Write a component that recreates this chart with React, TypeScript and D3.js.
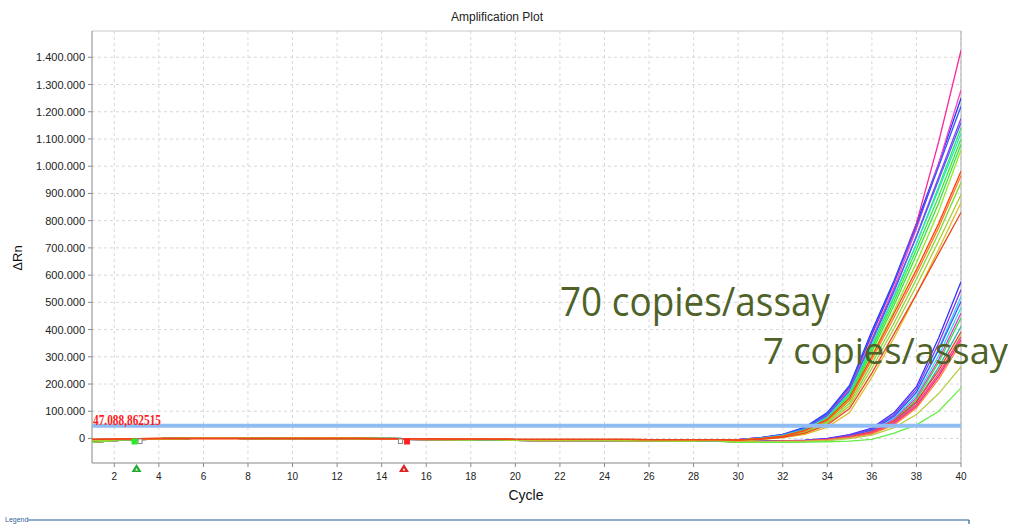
import React from "react";
import * as d3 from "d3";

// cycles 1..40
const cycles: number[] = Array.from({ length: 40 }, (_, i) => i + 1);
const xTickValues = [2, 4, 6, 8, 10, 12, 14, 16, 18, 20, 22, 24, 26, 28, 30, 32, 34, 36, 38, 40];
const yTickValues = [0, 100000, 200000, 300000, 400000, 500000, 600000, 700000, 800000, 900000, 1000000, 1100000, 1200000, 1300000, 1400000];

// flat part of the curves, cycles 1..29
const baseA = [-8000, -5000, -3000, -1000, 0, 1000, 1000, 1000, 0, 0, 0, 0, -1000, -2000, -2000, -3000, -3000, -3000, -3000, -4000, -4000, -4000, -4000, -4000, -4000, -4000, -4000, -4000, -4000];
const baseB = [-14000, -8000, -4000, -2000, 0, 2000, 3000, 3000, 2000, 1000, 0, 1000, 0, -2000, -3000, -4000, -5000, -6000, -6000, -7000, -8000, -8000, -8000, -8000, -9000, -9000, -10000, -10000, -10000];
const baseC = [-4000, -3000, -2000, -1000, 0, 1000, 1000, 0, 0, 1000, 2000, 2000, 1000, 0, -1000, -2000, -3000, -3000, -4000, -5000, -6000, -6000, -5000, -5000, -5000, -5000, -6000, -7000, -8000];
const baseRed = [-3000, -2000, -1000, 0, 0, 0, 0, 0, 0, 0, 0, 0, 0, -1000, -1000, -1000, -2000, -2000, -2000, -3000, -3000, -3000, -3000, -3000, -3000, -4000, -4000, -4000, -4000];

// rising part, cycles 30..40 — 7 copies/assay
const lowColors = ["#3333ff", "#8833ee", "#33ccff", "#22ddee", "#4455ee", "#ee33cc", "#33dd44", "#22bbaa", "#ff3333", "#99ee33", "#ff4488", "#ff22aa", "#ff8833", "#bbcc44", "#66ee44"];
const lowBase = ["B", "B", "B", "C", "B", "C", "B", "C", "B", "C", "B", "C", "B", "C", "B"];
const lowTails = [
  [-10000, -10000, -9000, -6000, 0, 14000, 38000, 95000, 190000, 370000, 576000],
  [-11000, -11000, -10000, -7000, -1000, 12000, 34000, 88000, 180000, 350000, 546000],
  [-11000, -11000, -10000, -8000, -3000, 9000, 30000, 80000, 168000, 330000, 521000],
  [-12000, -12000, -11000, -9000, -4000, 8000, 27000, 74000, 158000, 305000, 480000],
  [-10000, -10000, -9000, -7000, -2000, 10000, 31000, 82000, 170000, 325000, 503000],
  [-12000, -12000, -11000, -9000, -4000, 7000, 25000, 70000, 150000, 290000, 460000],
  [-13000, -13000, -12000, -10000, -5000, 5000, 22000, 65000, 142000, 280000, 443000],
  [-12000, -12000, -12000, -10000, -6000, 4000, 20000, 60000, 132000, 262000, 411000],
  [-11000, -11000, -10000, -8000, -3000, 7000, 24000, 64000, 135000, 250000, 391000],
  [-13000, -13000, -12000, -10000, -6000, 3000, 19000, 56000, 120000, 232000, 380000],
  [-12000, -12000, -11000, -9000, -5000, 5000, 21000, 58000, 125000, 238000, 373000],
  [-13000, -13000, -13000, -11000, -7000, 3000, 18000, 54000, 118000, 228000, 362000],
  [-12000, -12000, -11000, -10000, -6000, 3000, 17000, 50000, 112000, 218000, 351000],
  [-13000, -13000, -12000, -11000, -8000, 0, 12000, 40000, 88000, 165000, 264000],
  [-14000, -14000, -14000, -13000, -12000, -10000, -3000, 20000, 50000, 100000, 186000],
];

// rising part, cycles 30..40 — 70 copies/assay
const highColors = ["#2233ff", "#ff2299", "#ff44bb", "#3355ff", "#9933ff", "#4466ee", "#22ee55", "#33ddcc", "#33ee33", "#44dd44", "#88ee22", "#77dd33", "#aacc33", "#ddbb22", "#ff7722", "#ff4411", "#ee4422"];
const highBase = ["A", "C", "A", "C", "A", "C", "A", "C", "A", "C", "A", "C", "A", "C", "Red", "Red", "Red"];
const highTails = [
  [-4000, 3000, 15000, 42000, 95000, 195000, 395000, 580000, 790000, 1010000, 1250000],
  [-4000, 2000, 13000, 38000, 88000, 185000, 380000, 570000, 790000, 1090000, 1425000],
  [-3000, 3000, 12000, 36000, 84000, 178000, 365000, 555000, 770000, 1010000, 1280000],
  [-4000, 3000, 14000, 40000, 92000, 190000, 385000, 575000, 780000, 1000000, 1220000],
  [-5000, 1000, 11000, 34000, 80000, 170000, 355000, 540000, 745000, 960000, 1175000],
  [-5000, 2000, 12000, 36000, 85000, 175000, 360000, 545000, 740000, 950000, 1160000],
  [-6000, 0, 10000, 32000, 76000, 165000, 340000, 520000, 715000, 925000, 1140000],
  [-5000, 1000, 11000, 33000, 78000, 168000, 345000, 525000, 715000, 915000, 1120000],
  [-6000, -1000, 9000, 30000, 72000, 158000, 330000, 505000, 695000, 890000, 1100000],
  [-6000, -1000, 8000, 28000, 68000, 150000, 318000, 490000, 675000, 865000, 1080000],
  [-7000, -2000, 7000, 27000, 64000, 142000, 305000, 470000, 645000, 835000, 1060000],
  [-7000, -2000, 6000, 25000, 60000, 130000, 275000, 425000, 585000, 755000, 940000],
  [-7000, -3000, 5000, 22000, 55000, 120000, 258000, 405000, 560000, 725000, 895000],
  [-8000, -4000, 3000, 15000, 42000, 95000, 225000, 370000, 530000, 695000, 866000],
  [-6000, -1000, 8000, 28000, 66000, 140000, 290000, 445000, 605000, 775000, 965000],
  [-6000, 0, 9000, 30000, 70000, 150000, 300000, 460000, 620000, 790000, 981000],
  [-5000, -3000, 4000, 20000, 50000, 110000, 240000, 385000, 530000, 680000, 830000],
];

const threshold = 47088.862515;
const startCycle = 3;
const endCycle = 15;

const W = 1014;
const H = 524;
const margin = { left: 92, right: 961, top: 31, bottom: 463 };

const bases: Record<string, number[]> = { A: baseA, B: baseB, C: baseC, Red: baseRed };

const fmt = d3
  .formatLocale({ decimal: ",", thousands: ".", grouping: [3], currency: ["", ""] })
  .format(",d");

export default function App() {
  const x = d3.scaleLinear().domain([1, 40]).range([margin.left, margin.right]);
  const y = d3.scaleLinear().domain([-90000, 1496500]).range([margin.bottom, margin.top]);

  const line = d3
    .line<number>()
    .x((_, i) => x(cycles[i]))
    .y((d) => y(d));

  const series = [
    ...lowTails.map((t, i) => ({ color: lowColors[i], values: bases[lowBase[i]].concat(t) })),
    ...highTails.map((t, i) => ({ color: highColors[i], values: bases[highBase[i]].concat(t) })),
  ];

  const font = "'Liberation Sans', Arial, sans-serif";
  const ty = y(threshold);
  const y0 = y(0);

  return (
    <svg width={W} height={H} style={{ position: "absolute", left: 0, top: 0, background: "#fff" }} fontFamily={font}>
      <defs>
        <clipPath id="plot">
          <rect x={margin.left} y={margin.top} width={margin.right - margin.left} height={margin.bottom - margin.top} />
        </clipPath>
      </defs>
      <text x={497} y={21} textAnchor="middle" fontSize={12} fill="#222">Amplification Plot</text>

      {/* grid */}
      {xTickValues.map((t) => (
        <line key={"gx" + t} x1={x(t)} x2={x(t)} y1={margin.top} y2={margin.bottom} stroke="#d8d8d8" strokeDasharray="3,3" />
      ))}
      {yTickValues.map((t) => (
        <line key={"gy" + t} x1={margin.left} x2={margin.right} y1={y(t)} y2={y(t)} stroke="#d8d8d8" strokeDasharray="3,3" />
      ))}

      {/* frame */}
      <line x1={margin.left} x2={margin.right} y1={margin.top} y2={margin.top} stroke="#c8c8c8" />
      <line x1={margin.right} x2={margin.right} y1={margin.top} y2={margin.bottom} stroke="#aaa" />
      <line x1={margin.left} x2={margin.left} y1={margin.top} y2={margin.bottom} stroke="#888" />
      <line x1={margin.left} x2={margin.right} y1={margin.bottom} y2={margin.bottom} stroke="#888" />

      {/* y axis */}
      {yTickValues.map((t) => (
        <g key={"yt" + t}>
          <line x1={margin.left - 4} x2={margin.left} y1={y(t)} y2={y(t)} stroke="#888" />
          <text x={margin.left - 7} y={y(t) + 4} textAnchor="end" fontSize={11} fill="#222">{fmt(t)}</text>
        </g>
      ))}
      {/* x axis */}
      {xTickValues.map((t) => (
        <g key={"xt" + t}>
          <line x1={x(t)} x2={x(t)} y1={margin.bottom} y2={margin.bottom + 4} stroke="#888" />
          <text x={x(t)} y={margin.bottom + 17} textAnchor="middle" fontSize={10} fill="#222">{t}</text>
        </g>
      ))}
      <text x={526} y={500} textAnchor="middle" fontSize={14} fill="#111">Cycle</text>
      <text transform="translate(22,258) rotate(-90)" textAnchor="middle" fontSize={13} fill="#111">ΔRn</text>

      {/* curves */}
      <g clipPath="url(#plot)">
        {series.map((s, i) => (
          <path key={i} d={line(s.values) || ""} fill="none" stroke={s.color} strokeWidth={1.3} />
        ))}
      </g>

      {/* threshold */}
      <line x1={margin.left} x2={margin.right} y1={ty} y2={ty} stroke="#8fbcf2" strokeWidth={4} />
      <text x={93} y={ty - 1} fontFamily="'Liberation Serif', 'DejaVu Serif', serif" fontWeight="bold" fontSize={15} fill="#ff1a1a" textLength={68} lengthAdjust="spacingAndGlyphs">
        47.088,862515
      </text>

      {/* baseline start / end markers */}
      <rect x={x(startCycle) - 5} y={y0} width={6} height={6} fill="#22ee22" />
      <rect x={x(startCycle) + 1.5} y={y0 + 0.5} width={4} height={4.5} fill="#fff" stroke="#888" />
      <path d={`M${x(startCycle)},${margin.bottom + 1} l5,8 h-10 z`} fill="#22aa33" />
      <path d={`M${x(startCycle)},${margin.bottom + 5} l1.3,2.5 h-2.6 z`} fill="#fff" />
      <rect x={x(endCycle) - 5.5} y={y0 + 0.5} width={4} height={4.5} fill="#fff" stroke="#888" />
      <rect x={x(endCycle)} y={y0} width={6} height={6} fill="#ff2020" />
      <path d={`M${x(endCycle)},${margin.bottom + 1} l5,8 h-10 z`} fill="#dd2020" />
      <path d={`M${x(endCycle)},${margin.bottom + 5} l1.3,2.5 h-2.6 z`} fill="#fff" />

      {/* annotations */}
      <text x={560} y={316} fontFamily="'Open Sans', sans-serif" fontWeight={500} fontSize={40} fill="#4f6228" textLength={270} lengthAdjust="spacingAndGlyphs">70 copies/assay</text>
      <text x={763} y={364} fontFamily="'Open Sans', sans-serif" fontWeight={500} fontSize={37} fill="#4f6228" textLength={245} lengthAdjust="spacingAndGlyphs">7 copies/assay</text>

      {/* legend strip */}
      <text x={5} y={522} fontSize={7} fill="#2d5f9a">Legend</text>
      <line x1={28} x2={969} y1={520} y2={520} stroke="#2d5f9a" strokeWidth={1.2} />
      <line x1={969} x2={969} y1={520} y2={524} stroke="#2d5f9a" strokeWidth={1.2} />
    </svg>
  );
}
